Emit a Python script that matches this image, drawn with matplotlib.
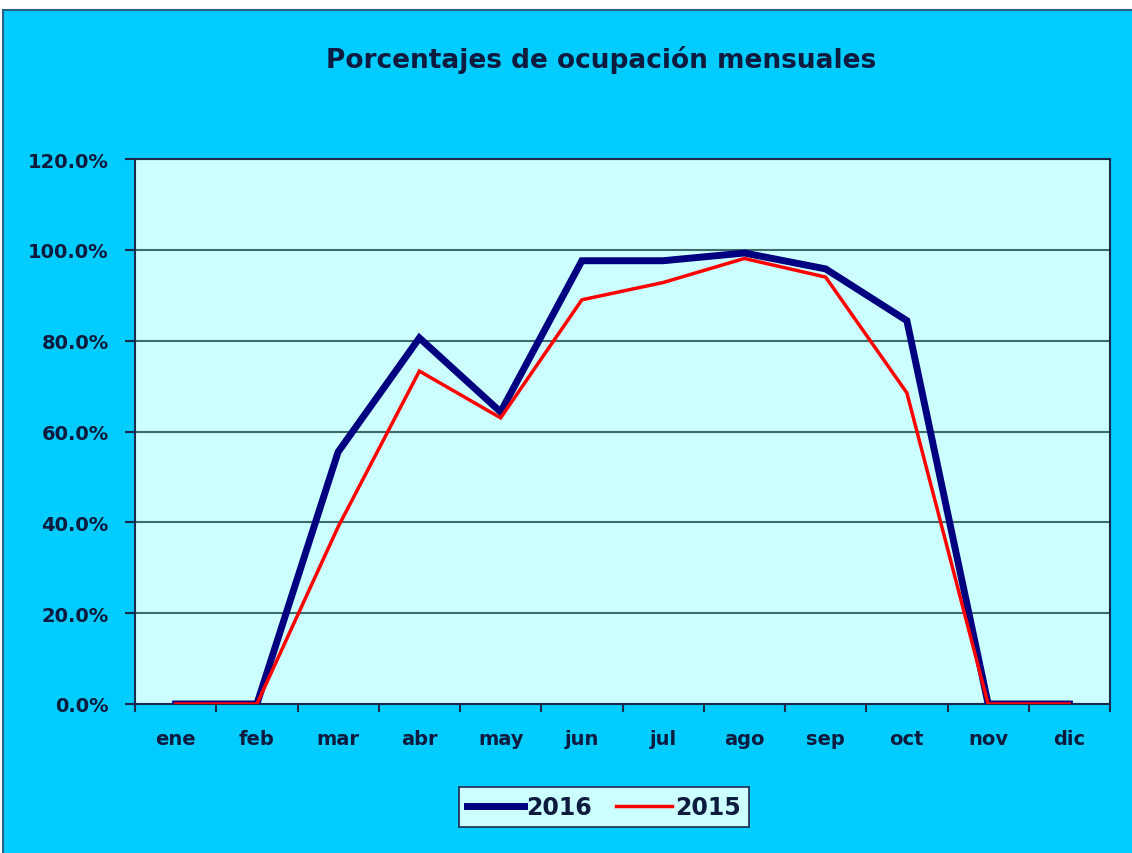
import matplotlib
matplotlib.use("Agg")
import matplotlib.pyplot as plt
from matplotlib.patches import Rectangle
from matplotlib.ticker import FuncFormatter, FixedLocator

months = ["ene", "feb", "mar", "abr", "may", "jun", "jul", "ago", "sep", "oct", "nov", "dic"]
occ_2016 = [0.0, 0.0, 0.555, 0.806, 0.643, 0.976, 0.976, 0.993, 0.958, 0.844, 0.0, 0.0]
occ_2015 = [0.0, 0.0, 0.39, 0.733, 0.630, 0.890, 0.928, 0.981, 0.940, 0.685, 0.0, 0.0]
yticks = [0.0, 0.2, 0.4, 0.6, 0.8, 1.0, 1.2]
title = "Porcentajes de ocupación mensuales"

txt = "#0d1b3e"
plt.rcParams['font.family'] = ['DejaVu Sans']

fig = plt.figure(figsize=(11.32, 8.54), dpi=100, facecolor="white")
fig.patches.append(Rectangle((3/1132, -0.01), 1.0, 1.01 - 11/854, transform=fig.transFigure,
                             facecolor="#00CCFF", edgecolor="#2c5f86", linewidth=1.5, zorder=-5))

ax = fig.add_axes([135/1132, 149/854, 975/1132, 545/854])
ax.set_zorder(2)
ax.set_facecolor("#CCFFFF")
x = list(range(len(months)))
ax.plot(x, occ_2016, color="#000080", lw=5, label="2016", solid_joinstyle="miter", zorder=3)
ax.plot(x, occ_2015, color="#FF0000", lw=2.5, label="2015", solid_joinstyle="miter", zorder=4)

ax.set_xlim(-0.5, len(months) - 0.5)
ax.set_ylim(0, 1.2)
ax.set_yticks(yticks)
ax.yaxis.set_major_formatter(FuncFormatter(lambda v, p: f"{v*100:.1f}%"))
ax.grid(axis="y", color="#3f6a6a", lw=1.5, zorder=1)
ax.set_xticks(x)
ax.set_xticklabels(months)
ax.xaxis.set_minor_locator(FixedLocator([i + 0.5 for i in range(-1, len(months))]))
ax.tick_params(axis="x", which="major", length=0, pad=18, labelsize=14, labelcolor=txt)
ax.tick_params(axis="x", which="minor", length=6, width=1.5, color="#1a2a4a")
ax.tick_params(axis="y", length=7, width=1.5, color="#1a2a4a", labelsize=14, labelcolor=txt, pad=12)
for lab in ax.get_xticklabels() + ax.get_yticklabels():
    lab.set_fontweight("bold")
for s in ax.spines.values():
    s.set_color("#1a2a4a")
    s.set_linewidth(1.5)
ax.set_axisbelow(True)

fig.text(0.531, 1 - 60/854, title, ha="center", va="center", fontsize=19,
         fontweight="bold", color=txt, zorder=3)

leg = fig.legend(loc="center", bbox_to_anchor=(604/1132, 1 - 808/854), ncol=2,
                 frameon=True, fancybox=False, handlelength=2.4,
                 handletextpad=0.1, columnspacing=1.0, borderpad=0.35,
                 prop={"weight": "bold", "size": 17})
leg.set_zorder(5)
leg.get_frame().set_facecolor("#CCFFFF")
leg.get_frame().set_edgecolor("#1a2a4a")
leg.get_frame().set_linewidth(1.2)
leg.get_frame().set_alpha(1)
for t in leg.get_texts():
    t.set_color(txt)

fig.savefig("out.png", dpi=100, facecolor=fig.get_facecolor())
